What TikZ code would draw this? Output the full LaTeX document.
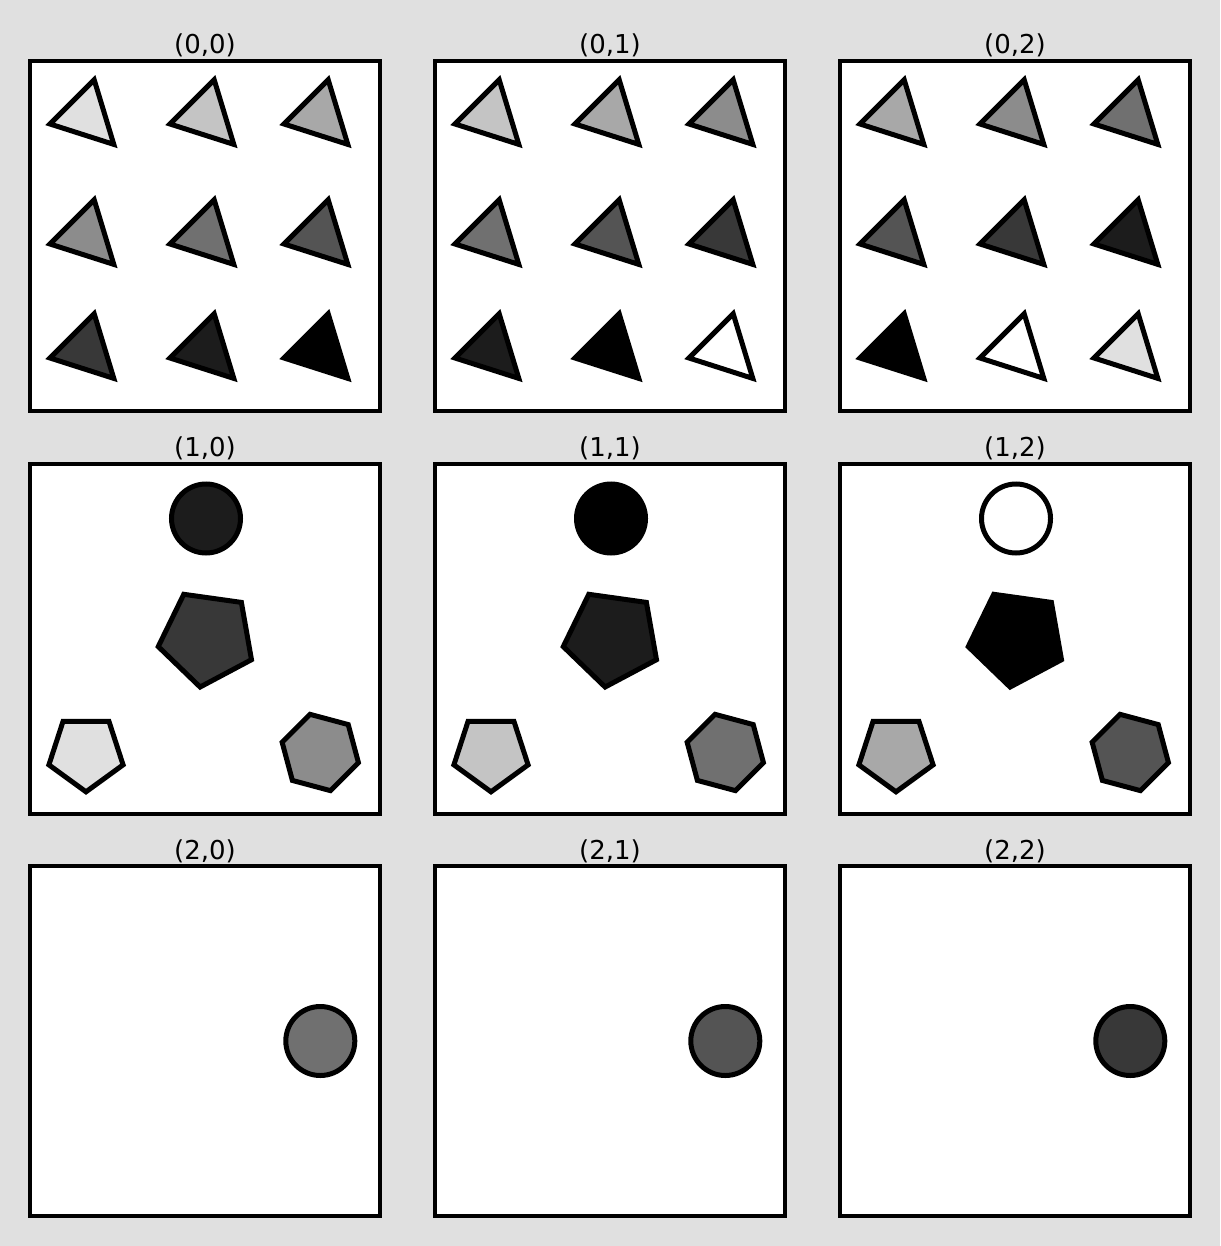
\documentclass[tikz,border=0pt]{standalone}
\usepackage{fontspec}
\setmainfont{DejaVu Sans}
\usepackage{xcolor}
\usepackage{tikz}
\usetikzlibrary{positioning}
\definecolor{figbg}{RGB}{224,224,224}
\definecolor{shade0}{RGB}{224,224,224}
\definecolor{shade1}{RGB}{196,196,196}
\definecolor{shade2}{RGB}{168,168,168}
\definecolor{shade3}{RGB}{140,140,140}
\definecolor{shade4}{RGB}{112,112,112}
\definecolor{shade5}{RGB}{84,84,84}
\definecolor{shade6}{RGB}{56,56,56}
\definecolor{shade7}{RGB}{28,28,28}
\definecolor{shade8}{RGB}{0,0,0}
\definecolor{shade9}{RGB}{255,255,255}

\begin{document}
\begin{tikzpicture}[x=1pt,y=-1pt,
  panelbox/.style={draw=black,line width=4pt,fill=white,minimum size=350pt,inner sep=0pt},
  paneltitle/.style={font=\fontsize{26}{31}\selectfont,inner sep=0pt},
  markline/.style={draw=black,line width=5pt}]
  \fill[figbg] (0,0) rectangle (1220,1246);
  \useasboundingbox (0,0) rectangle (1220,1246);
  % panels with their titles
  \foreach \r in {0,1,2} {
    \foreach \c in {0,1,2} {
      \node[panelbox] (p\r\c) at ({205+405*\c},{236+402.5*\r}) {};
      \node[paneltitle,above=5pt of p\r\c.north,anchor=base] (t\r\c) {(\r,\c)};
    }
  }
  % row 0: 3x3 triangles, shade shifts by one per panel
  \foreach \c in {0,1,2} {
    \foreach \i/\gy in {0/55,1/175,2/289} {
      \foreach \j/\gx in {0/56,1/176,2/290} {
        \pgfmathtruncatemacro\idx{mod(3*\i+\j+\c,10)}
        \draw[markline,fill=shade\idx,shift={({30+405*\c+\gx},{61+\gy})}]
          (8.2,-36.2) -- (-36,8) -- (27.8,28.4) -- cycle;
      }
    }
  }
  % row 1: circle, big pentagon, small pentagon, hexagon
  \foreach \c in {0,1,2} {
    \pgfmathtruncatemacro\ia{mod(7+\c,10)}
    \pgfmathtruncatemacro\ib{mod(6+\c,10)}
    \pgfmathtruncatemacro\ic{mod(0+\c,10)}
    \pgfmathtruncatemacro\id{mod(3+\c,10)}
    \begin{scope}[shift={({30+405*\c},463.5)}]
      \draw[markline,fill=shade\ia] (176,55) circle (34.5);
      \draw[markline,fill=shade\ib,shift={(177,174.5)}]
        (-46:49.5) \foreach \k in {1,...,4} { -- ({-46-72*\k}:49.5) } -- cycle;
      \draw[markline,fill=shade\ic,shift={(56,289.3)}]
        (90:39) \foreach \k in {1,...,4} { -- ({90-72*\k}:39) } -- cycle;
      \draw[markline,fill=shade\id,shift={(320.3-30,289)}]
        (-45:39.5) \foreach \k in {1,...,5} { -- ({-45-60*\k}:39.5) } -- cycle;
    \end{scope}
  }
  % row 2: one circle per panel
  \foreach \c in {0,1,2} {
    \pgfmathtruncatemacro\ia{mod(4+\c,10)}
    \draw[markline,fill=shade\ia] ({30+405*\c+290.3},1041) circle (34.5);
  }
\end{tikzpicture}
\end{document}
